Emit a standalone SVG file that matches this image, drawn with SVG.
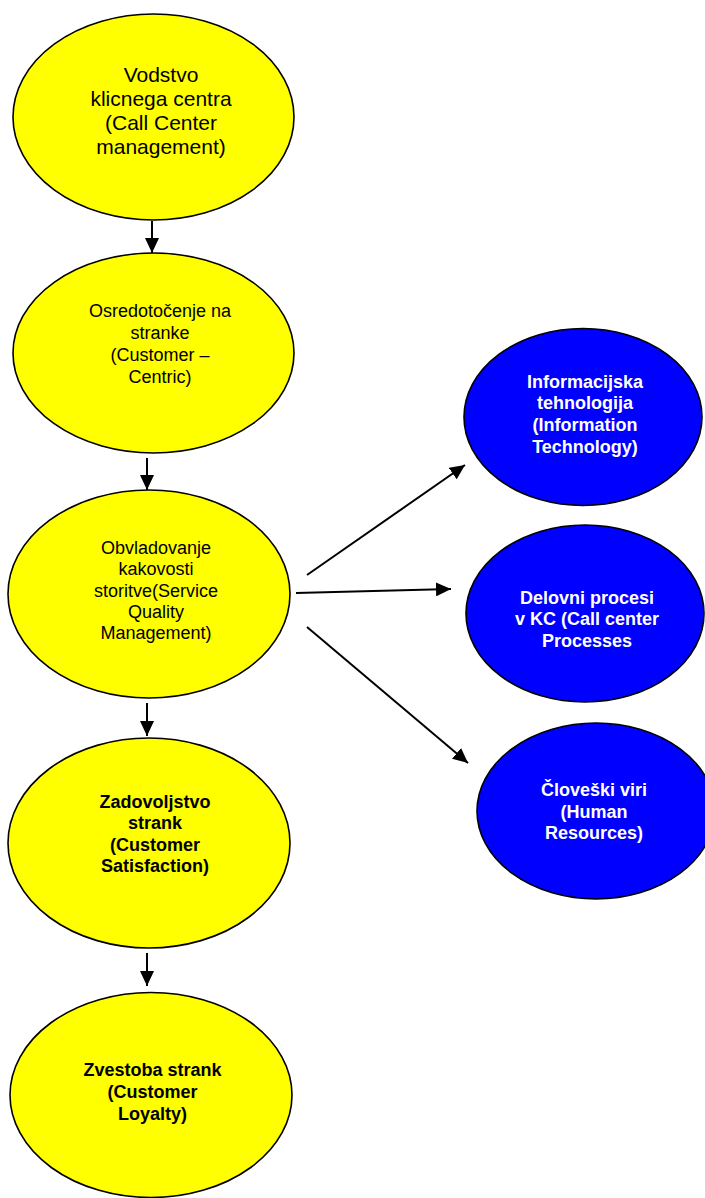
<svg xmlns="http://www.w3.org/2000/svg" width="705" height="1198" viewBox="0 0 705 1198">
<style>
.y{fill:#ffff00;stroke:#000;stroke-width:1.6}
.b{fill:#0000ff;stroke:#000;stroke-width:1.6}
.t{font-family:"Liberation Sans",Arial,sans-serif;text-anchor:middle;fill:#000}
.tb{font-family:"Liberation Sans",Arial,sans-serif;text-anchor:middle;font-weight:bold;font-size:18px;fill:#000}
.tw{font-family:"Liberation Sans",Arial,sans-serif;text-anchor:middle;font-weight:bold;font-size:18px;fill:#fff}
.c{stroke:#000;stroke-width:2;fill:none;marker-end:url(#ah)}
</style>
<defs>
<marker id="ah" markerUnits="userSpaceOnUse" markerWidth="15" markerHeight="14" refX="15" refY="7" orient="auto">
<path d="M0,0 L15,7 L0,14 z" fill="#000"/>
</marker>
</defs>
<rect width="705" height="1198" fill="#fff"/>
<g id="connectors">
<line class="c" x1="152" y1="221" x2="152" y2="253"/>
<line class="c" x1="147" y1="458" x2="147" y2="490"/>
<line class="c" x1="147" y1="703" x2="147" y2="736"/>
<line class="c" x1="147" y1="953" x2="147" y2="986"/>
<line class="c" x1="307" y1="575" x2="465" y2="465"/>
<line class="c" x1="296" y1="593" x2="451" y2="589"/>
<line class="c" x1="307" y1="627" x2="468" y2="763"/>
</g>
<g id="n1">
<ellipse class="y" cx="153.5" cy="117" rx="140.5" ry="103"/>
<text class="t" font-size="21" x="161" y="82">Vodstvo</text>
<text class="t" font-size="21" x="161" y="106">klicnega centra</text>
<text class="t" font-size="21" x="161" y="130">(Call Center</text>
<text class="t" font-size="21" x="161" y="154">management)</text>
</g>
<g id="n2">
<ellipse class="y" cx="153.5" cy="353" rx="140.5" ry="100"/>
<text class="t" font-size="18" x="160" y="317">Osredotočenje na</text>
<text class="t" font-size="18" x="160" y="339">stranke</text>
<text class="t" font-size="18" x="160" y="361">(Customer –</text>
<text class="t" font-size="18" x="160" y="383">Centric)</text>
</g>
<g id="n3">
<ellipse class="y" cx="149" cy="594" rx="141" ry="104"/>
<text class="t" font-size="18" x="156" y="554">Obvladovanje</text>
<text class="t" font-size="18" x="156" y="575">kakovosti</text>
<text class="t" font-size="18" x="156" y="597">storitve(Service</text>
<text class="t" font-size="18" x="156" y="618">Quality</text>
<text class="t" font-size="18" x="156" y="639">Management)</text>
</g>
<g id="n4">
<ellipse class="y" cx="149" cy="843" rx="141" ry="105"/>
<text class="tb" x="155" y="808">Zadovoljstvo</text>
<text class="tb" x="155" y="829">strank</text>
<text class="tb" x="155" y="851">(Customer</text>
<text class="tb" x="155" y="872">Satisfaction)</text>
</g>
<g id="n5">
<ellipse class="y" cx="151" cy="1095" rx="141" ry="102.5"/>
<text class="tb" x="152.5" y="1076">Zvestoba strank</text>
<text class="tb" x="152.5" y="1098">(Customer</text>
<text class="tb" x="152.5" y="1120">Loyalty)</text>
</g>
<g id="b1">
<ellipse class="b" cx="583" cy="417" rx="119" ry="88.5"/>
<text class="tw" x="585" y="388">Informacijska</text>
<text class="tw" x="585" y="409">tehnologija</text>
<text class="tw" x="585" y="431">(Information</text>
<text class="tw" x="585" y="453">Technology)</text>
</g>
<g id="b2">
<ellipse class="b" cx="585" cy="613.5" rx="119" ry="88.5"/>
<text class="tw" x="587" y="604">Delovni procesi</text>
<text class="tw" x="587" y="625">v KC (Call center</text>
<text class="tw" x="587" y="647">Processes</text>
</g>
<g id="b3">
<ellipse class="b" cx="596" cy="811" rx="119" ry="88"/>
<text class="tw" x="594" y="796">Človeški viri</text>
<text class="tw" x="594" y="818">(Human</text>
<text class="tw" x="594" y="839">Resources)</text>
</g>
</svg>
